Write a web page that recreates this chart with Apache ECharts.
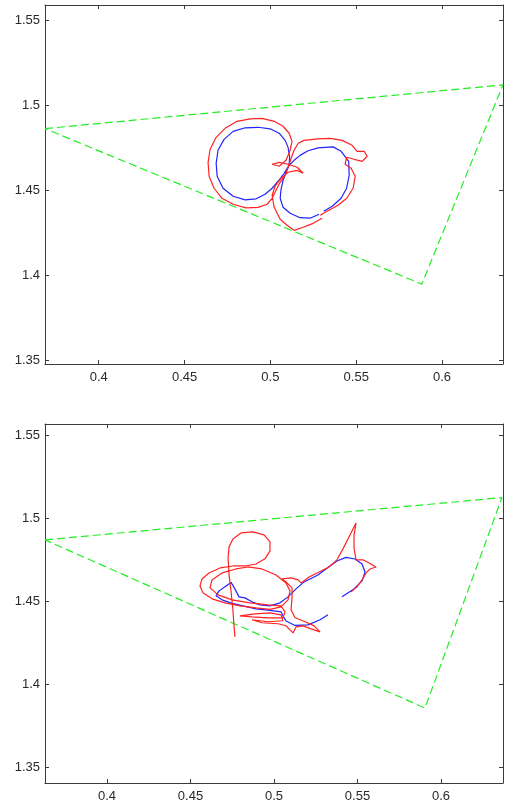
<!DOCTYPE html>
<html>
<head>
<meta charset="utf-8">
<script src="https://cdn.jsdelivr.net/npm/echarts@6/dist/echarts.min.js"></script>
<style>
html,body{margin:0;padding:0;background:#fff;}
#chart{width:505px;height:804px;}
</style>
</head>
<body>
<div id="chart"></div>
<script>
// ---- tick labels ----
var xTicks = [0.4, 0.45, 0.5, 0.55, 0.6];
var yTicks = [1.35, 1.4, 1.45, 1.5, 1.55];

// ---- panel 1 (top) ----
var topTriX = [0.3687, 0.6355, 0.5882, 0.3687];
var topTriY = [1.4862, 1.5119, 1.3949, 1.4862];

var topBlueX = [0.5284,0.5231,0.5173,0.5115,0.5074,0.5057,0.5062,0.5074,0.5091,0.5109,0.5112,0.5103,0.5086,0.5051,0.4998,0.4928,0.4853,0.4783,0.4730,0.4695,0.4684,0.4690,0.4724,0.4783,0.4853,0.4917,0.4969,0.5010,0.5045,0.5080,0.5109,0.5138,0.5173,0.5219,0.5278,0.5365,0.5412,0.5456,0.5459,0.5444,0.5412,0.5360,0.5311];
var topBlueY = [1.4359,1.4336,1.4339,1.4365,1.4400,1.4453,1.4506,1.4559,1.4606,1.4647,1.4694,1.4752,1.4793,1.4835,1.4861,1.4870,1.4867,1.4846,1.4799,1.4735,1.4659,1.4582,1.4512,1.4465,1.4444,1.4450,1.4477,1.4512,1.4553,1.4600,1.4647,1.4676,1.4705,1.4732,1.4749,1.4755,1.4729,1.4670,1.4588,1.4512,1.4453,1.4406,1.4377];

var topRedX = [0.5301,0.5249,0.5191,0.5138,0.5097,0.5057,0.5022,0.5010,0.5027,0.5062,0.5103,0.5156,0.5191,0.5156,0.5103,0.5051,0.5010,0.5051,0.5091,0.5115,0.5126,0.5109,0.5074,0.5022,0.4952,0.4882,0.4806,0.4736,0.4684,0.4649,0.4637,0.4643,0.4672,0.4718,0.4783,0.4858,0.4928,0.4981,0.5010,0.5033,0.5057,0.5086,0.5103,0.5121,0.5138,0.5162,0.5196,0.5278,0.5348,0.5418,0.5476,0.5505,0.5546,0.5564,0.5535,0.5488,0.5445,0.5435,0.5470,0.5494,0.5482,0.5445,0.5394,0.5330,0.5290];
var topRedY = [1.4336,1.4306,1.4283,1.4265,1.4295,1.4330,1.4400,1.4471,1.4524,1.4570,1.4606,1.4617,1.4600,1.4635,1.4653,1.4664,1.4653,1.4641,1.4676,1.4735,1.4787,1.4835,1.4876,1.4905,1.4922,1.4919,1.4905,1.4864,1.4811,1.4741,1.4664,1.4582,1.4512,1.4453,1.4418,1.4397,1.4400,1.4418,1.4453,1.4500,1.4547,1.4588,1.4635,1.4688,1.4735,1.4776,1.4793,1.4802,1.4805,1.4793,1.4764,1.4729,1.4729,1.4700,1.4670,1.4682,1.4694,1.4653,1.4629,1.4582,1.4512,1.4453,1.4412,1.4377,1.4353];

// ---- panel 2 (bottom) ----
var botTriX = [0.3629, 0.6365, 0.5904, 0.3629];
var botTriY = [1.4869, 1.5124, 1.3856, 1.4869];

var botBlueX = [0.5323,0.5276,0.5204,0.5126,0.5072,0.5054,0.5042,0.4976,0.4892,0.4814,0.4749,0.4689,0.4653,0.4671,0.4713,0.4743,0.4766,0.4790,0.4826,0.4868,0.4916,0.4976,0.5036,0.5084,0.5132,0.5180,0.5263,0.5335,0.5377,0.5431,0.5485,0.5527,0.5545,0.5527,0.5479,0.5407];
var botBlueY = [1.4418,1.4388,1.4357,1.4354,1.4381,1.4412,1.4436,1.4445,1.4454,1.4472,1.4487,1.4508,1.4532,1.4562,1.4592,1.4613,1.4574,1.4526,1.4520,1.4496,1.4478,1.4472,1.4490,1.4526,1.4574,1.4616,1.4658,1.4712,1.4742,1.4764,1.4754,1.4724,1.4676,1.4622,1.4574,1.4526];

var botRedX = [0.4766,0.4760,0.4754,0.4743,0.4731,0.4725,0.4731,0.4754,0.4802,0.4874,0.4940,0.4976,0.4976,0.4946,0.4892,0.4826,0.4754,0.4677,0.4611,0.4569,0.4557,0.4575,0.4629,0.4707,0.4796,0.4892,0.4976,0.5042,0.5084,0.5096,0.5072,0.5012,0.4928,0.4844,0.4772,0.4689,0.4629,0.4617,0.4665,0.4749,0.4856,0.4964,0.5042,0.5066,0.5054,0.4964,0.4868,0.4796,0.4886,0.4976,0.5042,0.5054,0.4964,0.4868,0.4928,0.5024,0.5072,0.5096,0.5114,0.5132,0.5174,0.5222,0.5276,0.5240,0.5186,0.5126,0.5102,0.5108,0.5108,0.5072,0.5048,0.5102,0.5144,0.5162,0.5210,0.5270,0.5329,0.5377,0.5413,0.5449,0.5491,0.5479,0.5479,0.5491,0.5533,0.5569,0.5611,0.5575,0.5551,0.5527,0.5497,0.5461];
var botRedY = [1.4285,1.4357,1.4448,1.4556,1.4658,1.4761,1.4827,1.4875,1.4911,1.4917,1.4899,1.4857,1.4803,1.4755,1.4724,1.4712,1.4712,1.4700,1.4670,1.4634,1.4592,1.4550,1.4514,1.4490,1.4472,1.4460,1.4451,1.4466,1.4508,1.4562,1.4610,1.4658,1.4694,1.4706,1.4694,1.4670,1.4628,1.4580,1.4538,1.4508,1.4490,1.4478,1.4472,1.4436,1.4400,1.4400,1.4406,1.4412,1.4424,1.4430,1.4418,1.4382,1.4376,1.4388,1.4370,1.4364,1.4352,1.4327,1.4309,1.4345,1.4351,1.4333,1.4315,1.4351,1.4376,1.4400,1.4448,1.4520,1.4580,1.4616,1.4634,1.4640,1.4628,1.4610,1.4646,1.4676,1.4706,1.4749,1.4815,1.4887,1.4971,1.4893,1.4821,1.4749,1.4749,1.4730,1.4706,1.4694,1.4670,1.4628,1.4586,1.4556];

// ---- axis ranges ----
var topXRange = [0.3687, 0.6355], topYRange = [1.348, 1.5588];
var botXRange = [0.3629, 0.6371], botYRange = [1.3405, 1.5567];

function pairs(xs, ys){ return xs.map(function(v,i){ return [v, ys[i]]; }); }

var lineCol = '#3a3a3a';
var labelStyle = {color:'#2a2a2a', fontFamily:'Liberation Sans, Arial, sans-serif', fontSize:13};

function xAx(grid, range, pos){
  return {
    type:'value', gridIndex:grid, position:pos, min:range[0], max:range[1],
    splitLine:{show:false},
    axisLine:{show:true, onZero:false, lineStyle:{color:lineCol, width:1}},
    axisTick:{show:true, inside:true, length:4, customValues:xTicks, lineStyle:{color:lineCol}},
    axisLabel:{show:pos==='bottom', customValues:xTicks, margin:7, formatter:function(v){return String(+v.toFixed(2));}, ...labelStyle}
  };
}
function yAx(grid, range, pos){
  return {
    type:'value', gridIndex:grid, position:pos, min:range[0], max:range[1],
    splitLine:{show:false},
    axisLine:{show:true, onZero:false, lineStyle:{color:lineCol, width:1}},
    axisTick:{show:true, inside:true, length:4, customValues:yTicks, lineStyle:{color:lineCol}},
    axisLabel:{show:pos==='left', customValues:yTicks, margin:5, formatter:function(v){return String(+v.toFixed(2));}, ...labelStyle}
  };
}
function ser(xs, ys, xi, yi, color, dashed){
  return {
    type:'line', xAxisIndex:xi, yAxisIndex:yi, data:pairs(xs, ys),
    showSymbol:false, symbol:'none', silent:true, animation:false, smooth:false,
    lineStyle:{color:color, width:1.2, type: dashed ? [8,4] : 'solid'}
  };
}

var chart = echarts.init(document.getElementById('chart'), null, {renderer:'canvas'});
chart.setOption({
  backgroundColor:'#ffffff',
  animation:false,
  grid:[
    {left:45, top:5, width:458, height:359},
    {left:45, top:424, width:458, height:359}
  ],
  xAxis:[xAx(0, topXRange, 'bottom'), xAx(0, topXRange, 'top'), xAx(1, botXRange, 'bottom'), xAx(1, botXRange, 'top')],
  yAxis:[yAx(0, topYRange, 'left'), yAx(0, topYRange, 'right'), yAx(1, botYRange, 'left'), yAx(1, botYRange, 'right')],
  series:[
    ser(topTriX, topTriY, 0, 0, '#22ee22', true),
    ser(topBlueX, topBlueY, 0, 0, '#2222ff', false),
    ser(topRedX, topRedY, 0, 0, '#ff2222', false),
    ser(botTriX, botTriY, 2, 2, '#22ee22', true),
    ser(botBlueX, botBlueY, 2, 2, '#2222ff', false),
    ser(botRedX, botRedY, 2, 2, '#ff2222', false)
  ]
});
</script>
</body>
</html>
